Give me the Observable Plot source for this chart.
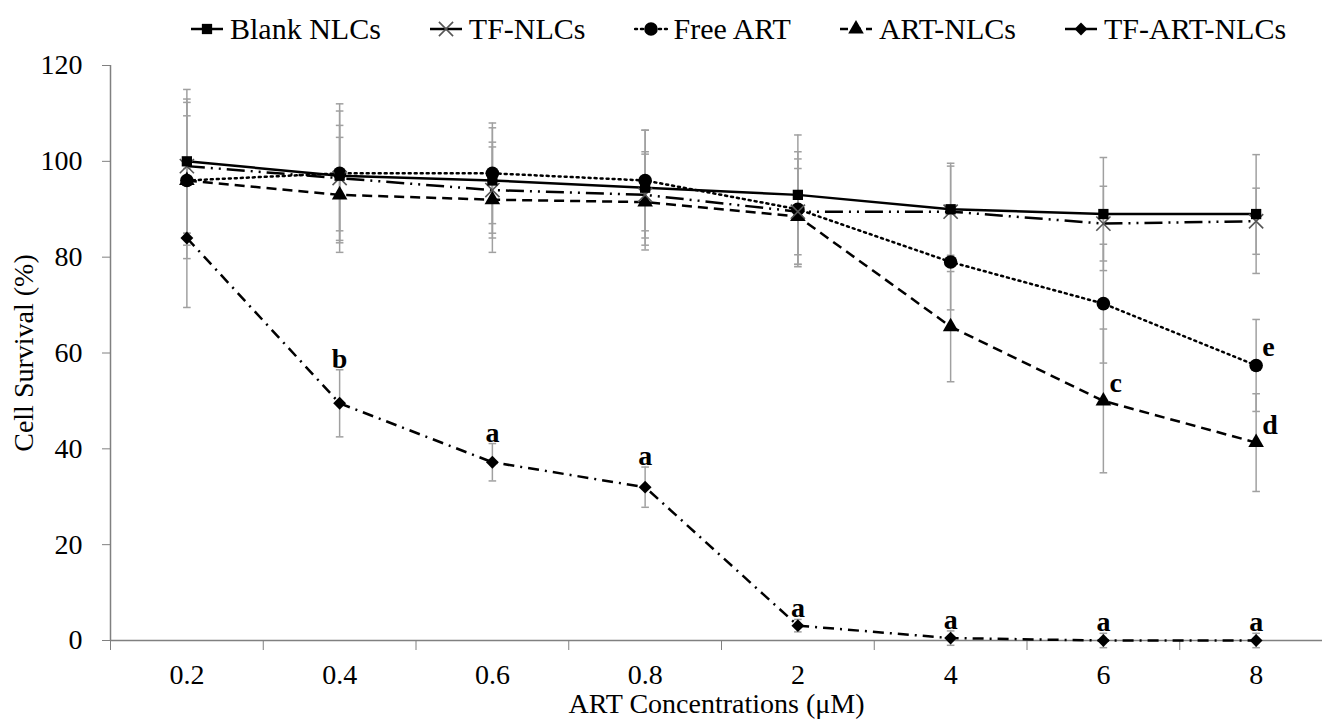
<!DOCTYPE html>
<html>
<head>
<meta charset="utf-8">
<script src="https://cdn.jsdelivr.net/npm/d3@7"></script>
<script src="https://cdn.jsdelivr.net/npm/@observablehq/plot@0.6"></script>
<style>
  html, body { margin: 0; padding: 0; background: white; }
  #legend { height: 58px; display: flex; align-items: center; padding-left: 190px; gap: 48px;
            font-family: "Liberation Serif", serif; font-size: 30px; color: black; box-sizing: border-box; }
  #legend .item { display: flex; align-items: center; gap: 6px; white-space: nowrap; }
  #legend svg { display: block; }
</style>
</head>
<body>
<div id="legend"></div>
<div id="chart"></div>
<script>
// ---- data ----
const concentrations = ["0.2", "0.4", "0.6", "0.8", "2", "4", "6", "8"];
const seriesNames = ["Blank NLCs", "TF-NLCs", "Free ART", "ART-NLCs", "TF-ART-NLCs"];

const blankNLCs    = [100, 97, 96, 94.5, 93, 90, 89, 89];
const blankNLCsErr = [15, 13.5, 11, 12, 12.5, 9.6, 11.8, 12.4];

const tfNLCs       = [99, 96.5, 94, 93, 89.5, 89.5, 87, 87.5];
const tfNLCsErr    = [14, 11, 10, 9, 11, 9.5, 7.8, 6.9];

const freeART      = [96, 97.5, 97.5, 96, 90, 79, 70.3, 57.4];
const freeARTErr   = [16.3, 14.5, 10.5, 10.5, 12, 10, 12.4, 9.6];

const artNLCs      = [96, 93, 92, 91.5, 88.5, 65.5, 50, 41.3];
const artNLCsErr   = [13.5, 12, 11, 10, 10, 11.5, 15, 10.2];

const tfArtNLCs    = [84, 49.5, 37.2, 32, 3.1, 0.5, 0, 0];
const tfArtNLCsErr = [14.5, 7, 3.9, 4.2, 1.3, 1.5, 1.5, 1.5];

// significance letters
const tfArtLetters   = ["", "b", "a", "a", "a", "a", "a", "a"];
const freeARTLetters = ["", "", "", "", "", "", "", "e"];
const artNLCsLetters = ["", "", "", "", "", "", "c", "d"];

const yTicks = [0, 20, 40, 60, 80, 100, 120];

// ---- styles ----
const styles = {
  "Blank NLCs":  {symbol: "square",   r: 5.8, fill: "black", stroke: "none", dash: null,            legendDash: null},
  "TF-NLCs":     {symbol: "times",    r: 6.5, fill: "none",  stroke: "#555", dash: "18,6,2,6,2,6",  legendDash: null},
  "Free ART":    {symbol: "circle",   r: 6.8, fill: "black", stroke: "none", dash: "2,4",           legendDash: "2,4"},
  "ART-NLCs":    {symbol: "triangle", r: 5.8, fill: "black", stroke: "none", dash: "10,6",          legendDash: "8,5"},
  "TF-ART-NLCs": {symbol: "diamond2", r: 5.8, fill: "black", stroke: "none", dash: "11,6,2,6",      legendDash: null}
};

const valuesBySeries = {
  "Blank NLCs":  [blankNLCs, blankNLCsErr, null],
  "TF-NLCs":     [tfNLCs, tfNLCsErr, null],
  "Free ART":    [freeART, freeARTErr, freeARTLetters],
  "ART-NLCs":    [artNLCs, artNLCsErr, artNLCsLetters],
  "TF-ART-NLCs": [tfArtNLCs, tfArtNLCsErr, tfArtLetters]
};

const rows = [];
for (const s of seriesNames) {
  const [vals, errs, letters] = valuesBySeries[s];
  vals.forEach((v, i) => rows.push({series: s, i, x: i + 0.5, conc: concentrations[i], y: v, err: errs[i],
    letter: letters ? letters[i] : ""}));
}

const capSymbol = {draw(context, size) { const w = Math.sqrt(size / Math.PI); context.moveTo(-w, 0); context.lineTo(w, 0); }};

const drawOrder = ["TF-ART-NLCs", "ART-NLCs", "Free ART", "TF-NLCs", "Blank NLCs"];
const FONT = "Liberation Serif";

const marks = [
  Plot.ruleX([0], {stroke: "#808080", strokeWidth: 1.5}),
  Plot.axisY({ticks: yTicks, tickSize: 8, tickPadding: 20, fontSize: 28, stroke: "#808080", fill: "black",
    label: "Cell Survival (%)", labelAnchor: "center", labelArrow: "none", labelOffset: 97}),
  Plot.axisX({ticks: d3.range(0, concentrations.length + 1), tickSize: 10, tickFormat: () => "", stroke: "#808080", label: null}),
  Plot.axisX({ticks: concentrations.map((c, i) => i + 0.5), tickSize: 0, tickPadding: 24, fontSize: 28, fill: "black",
    tickFormat: (d) => concentrations[Math.round(d - 0.5)],
    label: "ART Concentrations (μM)", labelAnchor: "center", labelArrow: "none", labelOffset: 72}),
  Plot.ruleY([0], {stroke: "#808080", strokeWidth: 1.5}),
  // error bars
  Plot.ruleX(rows, {x: "x", y1: d => d.y - d.err, y2: d => d.y + d.err, stroke: "#a0a0a0", strokeWidth: 1.5}),
  Plot.dot(rows, {x: "x", y: d => d.y - d.err, symbol: capSymbol, r: 3.8, fill: "none", stroke: "#a0a0a0", strokeWidth: 1.5}),
  Plot.dot(rows, {x: "x", y: d => d.y + d.err, symbol: capSymbol, r: 3.8, fill: "none", stroke: "#a0a0a0", strokeWidth: 1.5})
];

for (const s of drawOrder) {
  const st = styles[s];
  const data = rows.filter(d => d.series === s);
  marks.push(Plot.line(data, {x: "x", y: "y", stroke: "black", strokeWidth: 2.5,
    strokeDasharray: st.dash || undefined, strokeLinecap: s === "Free ART" ? "round" : "butt"}));
}
for (const s of drawOrder) {
  const st = styles[s];
  const data = rows.filter(d => d.series === s);
  marks.push(Plot.dot(data, {x: "x", y: "y", symbol: st.symbol, r: st.r, fill: st.fill, stroke: st.stroke,
    strokeWidth: 1.6}));
}

// letters: TF-ART-NLCs above the error bar; others beside the point
marks.push(Plot.text(rows.filter(d => d.series === "TF-ART-NLCs" && d.letter), {
  x: "x", y: d => d.y + d.err, text: "letter", lineAnchor: "bottom", dy: -2,
  fontSize: 28, fontWeight: "bold", fontFamily: FONT, fill: "black"}));
marks.push(Plot.text(rows.filter(d => d.series !== "TF-ART-NLCs" && d.letter), {
  x: "x", y: "y", text: "letter", textAnchor: "start", lineAnchor: "middle", dx: 6, dy: -18,
  fontSize: 28, fontWeight: "bold", fontFamily: FONT, fill: "black"}));

const chart = Plot.plot({
  width: 1322,
  height: 662,
  marginLeft: 110,
  marginRight: 0,
  marginTop: 7,
  marginBottom: 80,
  style: {fontFamily: FONT, fontSize: "28px", background: "white", color: "black", overflow: "visible"},
  x: {type: "linear", domain: [0, concentrations.length], range: [110, 1332]},
  y: {domain: [0, 120]},
  marks
});
document.getElementById("chart").appendChild(chart);

// ---- legend ----
const legend = document.getElementById("legend");
const symTypes = {square: d3.symbolSquare, times: d3.symbolTimes, circle: d3.symbolCircle, triangle: d3.symbolTriangle, diamond2: d3.symbolDiamond2};
for (const s of seriesNames) {
  const st = styles[s];
  const item = document.createElement("div");
  item.className = "item";
  const sw = d3.create("svg").attr("width", 34).attr("height", 24);
  sw.append("line").attr("x1", 1).attr("x2", 33).attr("y1", 12).attr("y2", 12)
    .attr("stroke", "black").attr("stroke-width", 2.5)
    .attr("stroke-linecap", s === "Free ART" ? "round" : "butt")
    .attr("stroke-dasharray", st.legendDash);
  sw.append("path").attr("transform", "translate(17,12)")
    .attr("d", d3.symbol(symTypes[st.symbol], Math.PI * st.r * st.r)())
    .attr("fill", st.fill).attr("stroke", st.stroke === "none" ? null : st.stroke).attr("stroke-width", 1.6);
  item.appendChild(sw.node());
  const t = document.createElement("span");
  t.textContent = s;
  item.appendChild(t);
  legend.appendChild(item);
}
</script>
</body>
</html>
